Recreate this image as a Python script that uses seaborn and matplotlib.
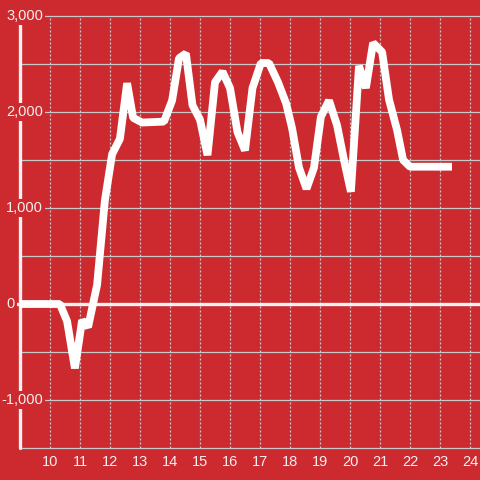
import seaborn as sns
import pandas as pd
from matplotlib import pyplot as plt

# values
hours = [9.0, 10.33, 10.57, 10.83, 11.07, 11.27, 11.57, 11.83, 12.07, 12.33, 12.57, 12.77,
         13.07, 13.8, 14.07, 14.3, 14.53, 14.75, 15.0, 15.25, 15.5, 15.75, 16.0, 16.25,
         16.5, 16.75, 17.03, 17.3, 17.6, 17.87, 18.07, 18.3, 18.55, 18.8, 19.03, 19.3,
         19.57, 19.8, 20.03, 20.3, 20.53, 20.77, 21.07, 21.3, 21.57, 21.77, 22.0, 23.4]
values = [0, 0, -180, -670, -170, -240, 200, 1080, 1560, 1720, 2300, 1940,
          1890, 1900, 2120, 2560, 2610, 2070, 1920, 1550, 2310, 2420, 2250, 1790,
          1600, 2250, 2510, 2510, 2310, 2090, 1830, 1420, 1200, 1420, 1950, 2120,
          1860, 1500, 1170, 2480, 2250, 2720, 2625, 2130, 1810, 1500, 1430, 1430]

y_ticks = [-1000, 0, 1000, 2000, 3000]
y_tick_labels = ["-1,000", "0", "1,000", "2,000", "3,000"]
x_ticks = list(range(10, 25))

RED = "#cd2a2f"
GRID = "#c9c9c9"
TXT = "#f4f0f0"

df = pd.DataFrame({"hour": hours, "value": values})

sns.set_style("white")
plt.rcParams["font.family"] = ["Liberation Sans", "DejaVu Sans"]

fig = plt.figure(figsize=(4.8, 4.8), dpi=100, facecolor=RED)
ax = fig.add_axes([0, 0, 1, 1])
ax.set_facecolor(RED)

px = 1 / 30.0          # data units per pixel on x
py = 1000 / 96.0       # data units per pixel on y
x0 = 9 - 20 * px
ax.set_xlim(x0, x0 + 480 * px)
ytop = 3000 + 16 * py
ax.set_ylim(ytop - 480 * py, ytop)

# horizontal grid every 500
for v in range(-1500, 3001, 500):
    if v == 0:
        continue
    ax.plot([9, 25], [v, v], color=GRID, lw=0.9, zorder=1)
# vertical dotted grid
for xt in x_ticks:
    ax.plot([xt, xt], [-1500, 3000], color=GRID, lw=0.9,
            linestyle=(0, (1.6, 1.6)), zorder=1)

# zero line and left spine
ax.plot([9 - 3 * px, 25], [0, 0], color="#f2f2f2", lw=2.4, zorder=2)
ax.plot([9, 9], [-1500, 3000], color="#f2f2f2", lw=2.4, zorder=2)

sns.lineplot(data=df, x="hour", y="value", ax=ax, color="white", lw=5.6,
             zorder=3, solid_joinstyle="bevel", solid_capstyle="butt")

# y tick labels with red boxes
for v, lab in zip(y_ticks, y_tick_labels):
    xr = x0 + (15 if v == 0 else 43) * px
    ax.text(xr, v, lab, ha="right", va="center", color=TXT, fontsize=10.5,
            zorder=4, bbox=dict(facecolor=RED, edgecolor="none", pad=1.2))
# x tick labels
for xt in x_ticks:
    ax.text(xt, ytop - 462 * py, str(xt), ha="center", va="center",
            color=TXT, fontsize=10.5, zorder=4)

ax.set_xticks([])
ax.set_yticks([])
ax.set_xlabel("")
ax.set_ylabel("")
for s in ax.spines.values():
    s.set_visible(False)

fig.savefig("out.png", dpi=100, facecolor=RED)
